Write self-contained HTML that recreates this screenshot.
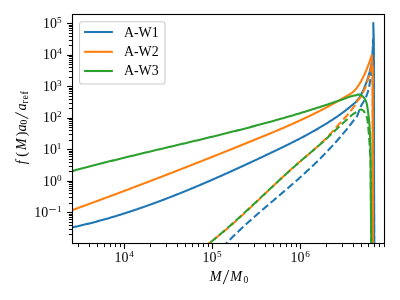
<!DOCTYPE html>
<html><head><meta charset="utf-8"><style>html,body{margin:0;padding:0;background:#fff;width:400px;height:300px;overflow:hidden}</style></head>
<body><svg width="400" height="300" viewBox="0 0 400 300" style="display:block;will-change:transform;font-family:'Liberation Serif',serif">
<rect width="400" height="300" fill="#fff"/>
<defs><clipPath id="ax"><rect x="72.5" y="14.5" width="312.0" height="229.0"/></clipPath></defs>
<g clip-path="url(#ax)">
<path d="M70.00 227.88 L70.98 227.67 L71.95 227.46 L72.93 227.25 L73.91 227.04 L74.88 226.83 L75.86 226.62 L76.83 226.40 L77.81 226.18 L78.78 225.96 L79.76 225.73 L80.73 225.51 L81.70 225.28 L82.67 225.05 L83.65 224.82 L84.62 224.58 L85.59 224.35 L86.56 224.11 L87.53 223.87 L88.50 223.63 L89.47 223.39 L90.43 223.14 L91.40 222.90 L92.37 222.65 L93.34 222.40 L94.30 222.15 L95.27 221.89 L96.24 221.64 L97.20 221.38 L98.17 221.12 L99.13 220.86 L100.09 220.60 L101.06 220.33 L102.02 220.07 L102.98 219.80 L103.95 219.53 L104.91 219.26 L105.87 218.99 L106.83 218.71 L107.79 218.44 L108.75 218.16 L109.71 217.88 L110.67 217.60 L111.63 217.32 L112.58 217.04 L113.54 216.75 L114.50 216.46 L115.45 216.18 L116.41 215.89 L117.37 215.60 L118.32 215.30 L119.28 215.01 L120.23 214.71 L121.18 214.41 L122.14 214.12 L123.09 213.82 L124.04 213.51 L124.99 213.21 L125.95 212.91 L126.90 212.60 L127.85 212.29 L128.80 211.98 L129.75 211.67 L130.70 211.36 L131.64 211.05 L132.59 210.74 L133.54 210.42 L134.49 210.10 L135.43 209.78 L136.38 209.46 L137.33 209.14 L138.27 208.82 L139.22 208.50 L140.16 208.17 L141.11 207.85 L142.05 207.52 L142.99 207.19 L143.94 206.86 L144.88 206.53 L145.82 206.20 L146.76 205.86 L147.70 205.53 L148.64 205.19 L149.59 204.86 L150.53 204.52 L151.46 204.18 L152.40 203.84 L153.34 203.49 L154.28 203.15 L155.22 202.81 L156.16 202.46 L157.09 202.12 L158.03 201.77 L158.97 201.42 L159.90 201.07 L160.84 200.72 L161.77 200.37 L162.71 200.01 L163.64 199.66 L164.57 199.30 L165.51 198.95 L166.44 198.59 L167.37 198.23 L168.30 197.87 L169.24 197.51 L170.17 197.15 L171.10 196.79 L172.03 196.43 L172.96 196.06 L173.89 195.70 L174.82 195.33 L175.75 194.96 L176.68 194.59 L177.60 194.22 L178.53 193.85 L179.46 193.48 L180.39 193.11 L181.31 192.74 L182.24 192.36 L183.17 191.99 L184.09 191.61 L185.02 191.24 L185.94 190.86 L186.87 190.48 L187.79 190.10 L188.71 189.72 L189.64 189.34 L190.56 188.96 L191.48 188.58 L192.41 188.20 L193.33 187.81 L194.25 187.43 L195.17 187.04 L196.09 186.66 L197.02 186.27 L197.94 185.88 L198.86 185.49 L199.78 185.10 L200.70 184.71 L201.61 184.32 L202.53 183.93 L203.45 183.54 L204.37 183.14 L205.29 182.75 L206.21 182.35 L207.12 181.96 L208.04 181.56 L208.96 181.17 L209.87 180.77 L210.79 180.37 L211.71 179.97 L212.62 179.57 L213.54 179.17 L214.45 178.77 L215.37 178.37 L216.28 177.97 L217.20 177.57 L218.11 177.16 L219.02 176.76 L219.94 176.35 L220.85 175.95 L221.76 175.54 L222.68 175.14 L223.59 174.73 L224.50 174.32 L225.41 173.91 L226.32 173.50 L227.23 173.10 L228.15 172.69 L229.06 172.28 L229.97 171.86 L230.88 171.45 L231.79 171.04 L232.70 170.63 L233.61 170.22 L234.52 169.80 L235.42 169.39 L236.33 168.97 L237.24 168.56 L238.15 168.14 L239.06 167.73 L239.97 167.31 L240.88 166.89 L241.78 166.48 L242.69 166.06 L243.60 165.64 L244.50 165.22 L245.41 164.80 L246.32 164.38 L247.22 163.96 L248.13 163.54 L249.04 163.12 L249.94 162.70 L250.85 162.28 L251.75 161.86 L252.66 161.43 L253.56 161.01 L254.47 160.59 L255.37 160.16 L256.28 159.74 L257.18 159.32 L258.09 158.89 L258.99 158.47 L259.89 158.04 L260.80 157.61 L261.70 157.19 L262.60 156.76 L263.51 156.34 L264.41 155.91 L265.31 155.48 L266.22 155.05 L267.12 154.63 L268.02 154.20 L268.92 153.77 L269.83 153.34 L270.73 152.91 L271.63 152.48 L272.53 152.05 L273.43 151.62 L274.34 151.19 L275.24 150.76 L276.14 150.33 L277.04 149.90 L277.94 149.47 L278.84 149.03 L279.74 148.60 L280.64 148.17 L281.54 147.73 L282.44 147.30 L283.34 146.86 L284.24 146.42 L285.13 145.99 L286.03 145.55 L286.93 145.11 L287.82 144.67 L288.72 144.22 L289.62 143.78 L290.51 143.33 L291.40 142.89 L292.30 142.44 L293.19 141.99 L294.08 141.54 L294.97 141.09 L295.86 140.64 L296.75 140.18 L297.64 139.73 L298.53 139.27 L299.42 138.81 L300.30 138.35 L301.19 137.89 L302.07 137.42 L302.96 136.96 L303.84 136.49 L304.72 136.02 L305.60 135.55 L306.48 135.08 L307.36 134.60 L308.24 134.12 L309.11 133.64 L309.99 133.16 L310.86 132.68 L311.74 132.19 L312.61 131.70 L313.48 131.21 L314.35 130.72 L315.22 130.23 L316.08 129.73 L316.95 129.23 L317.81 128.73 L318.67 128.22 L319.53 127.72 L320.39 127.21 L321.25 126.70 L322.11 126.18 L322.96 125.67 L323.82 125.15 L324.67 124.63 L325.52 124.10 L326.37 123.58 L327.22 123.05 L328.06 122.52 L328.91 121.98 L329.75 121.45 L330.59 120.91 L331.43 120.36 L332.27 119.82 L333.10 119.27 L333.94 118.72 L334.77 118.17 L335.60 117.61 L336.43 117.05 L337.25 116.49 L338.07 115.92 L338.89 115.35 L339.71 114.78 L340.53 114.20 L341.34 113.62 L342.15 113.03 L342.96 112.45 L343.76 111.85 L344.56 111.25 L345.36 110.65 L346.15 110.04 L346.93 109.43 L347.72 108.81 L348.50 108.18 L349.28 107.56 L350.05 106.93 L350.83 106.30 L351.60 105.66 L352.37 105.03 L353.14 104.39 L353.90 103.74 L354.65 103.07 L355.37 102.39 L356.06 101.67 L356.73 100.94 L357.37 100.18 L357.99 99.41 L358.58 98.61 L359.16 97.80 L359.71 96.96 L360.24 96.12 L360.75 95.25 L361.25 94.37 L361.73 93.48 L362.19 92.58 L362.63 91.67 L363.06 90.75 L363.48 89.82 L363.88 88.88 L364.28 87.94 L364.66 86.99 L365.03 86.04 L365.40 85.09 L365.75 84.13 L366.10 83.18 L366.44 82.22 L366.78 81.27 L367.10 80.31 L367.42 79.36 L367.73 78.40 L368.04 77.45 L368.33 76.49 L368.62 75.53 L368.90 74.58 L369.17 73.62 L369.43 72.66 L369.69 71.69 L369.93 70.73 L370.17 69.77 L370.40 68.80 L370.61 67.84 L370.82 66.87 L371.02 65.90 L371.21 64.93 L371.39 63.95 L371.56 62.98 L371.72 62.00 L371.87 61.02 L372.01 60.04 L372.15 59.06 L372.27 58.07 L372.39 57.09 L372.50 56.10 L372.61 55.11 L372.70 54.12 L372.79 53.13 L372.87 52.14 L372.95 51.15 L373.02 50.15 L373.08 49.16 L373.14 48.16 L373.19 47.16 L373.23 46.16 L373.27 45.16 L373.31 44.16 L373.34 43.16 L373.37 42.16 L373.39 41.15 L373.41 40.15 L373.42 39.14 L373.43 38.14 L373.44 37.13 L373.44 36.13 L373.44 35.12 L373.44 34.11 L373.43 33.10 L373.43 32.09 L373.42 31.08 L373.41 30.07 L373.39 29.06 L373.38 28.05 L373.37 27.04 L373.35 26.03 L373.33 25.02 L373.32 24.01 L373.30 23.00 L373.80 40.00 L374.20 250.00" fill="none" stroke="#1f77b4" stroke-width="2.083" stroke-linejoin="round"/>
<path d="M222.00 247.73 L222.69 247.01 L223.38 246.29 L224.08 245.57 L224.77 244.85 L225.47 244.13 L226.16 243.42 L226.86 242.70 L227.56 241.99 L228.26 241.27 L228.96 240.57 L229.67 239.86 L230.38 239.15 L231.09 238.45 L231.80 237.75 L232.51 237.05 L233.22 236.35 L233.94 235.65 L234.66 234.96 L235.38 234.26 L236.10 233.57 L236.82 232.88 L237.54 232.19 L238.27 231.50 L238.99 230.81 L239.72 230.13 L240.45 229.44 L241.18 228.76 L241.91 228.08 L242.64 227.40 L243.38 226.72 L244.11 226.05 L244.85 225.37 L245.58 224.70 L246.32 224.03 L247.06 223.35 L247.80 222.68 L248.55 222.02 L249.29 221.35 L250.03 220.68 L250.78 220.02 L251.53 219.35 L252.27 218.69 L253.02 218.03 L253.77 217.36 L254.52 216.70 L255.27 216.04 L256.02 215.39 L256.77 214.73 L257.53 214.07 L258.28 213.42 L259.04 212.76 L259.79 212.11 L260.55 211.45 L261.30 210.80 L262.06 210.15 L262.82 209.50 L263.58 208.85 L264.33 208.20 L265.09 207.55 L265.85 206.90 L266.61 206.25 L267.37 205.60 L268.13 204.95 L268.89 204.30 L269.65 203.65 L270.41 203.01 L271.18 202.36 L271.94 201.71 L272.70 201.07 L273.46 200.42 L274.22 199.77 L274.98 199.13 L275.75 198.48 L276.51 197.83 L277.27 197.19 L278.03 196.54 L278.79 195.89 L279.55 195.25 L280.32 194.60 L281.08 193.95 L281.84 193.31 L282.60 192.66 L283.36 192.01 L284.12 191.36 L284.88 190.71 L285.64 190.06 L286.40 189.41 L287.15 188.76 L287.91 188.11 L288.67 187.46 L289.42 186.80 L290.18 186.15 L290.94 185.50 L291.69 184.84 L292.44 184.19 L293.20 183.53 L293.95 182.87 L294.70 182.21 L295.45 181.55 L296.20 180.89 L296.95 180.23 L297.70 179.57 L298.45 178.91 L299.19 178.24 L299.94 177.58 L300.68 176.91 L301.43 176.24 L302.17 175.58 L302.91 174.91 L303.65 174.23 L304.39 173.56 L305.13 172.89 L305.86 172.21 L306.60 171.54 L307.33 170.86 L308.07 170.18 L308.80 169.50 L309.53 168.82 L310.26 168.13 L310.99 167.45 L311.71 166.76 L312.44 166.08 L313.16 165.39 L313.88 164.70 L314.60 164.00 L315.32 163.31 L316.04 162.61 L316.76 161.92 L317.47 161.22 L318.18 160.52 L318.89 159.82 L319.60 159.11 L320.31 158.41 L321.02 157.70 L321.72 156.99 L322.42 156.28 L323.13 155.57 L323.83 154.86 L324.52 154.14 L325.22 153.43 L325.91 152.71 L326.61 151.99 L327.30 151.26 L327.98 150.54 L328.67 149.82 L329.36 149.09 L330.04 148.36 L330.72 147.63 L331.40 146.90 L332.08 146.16 L332.76 145.43 L333.43 144.69 L334.10 143.95 L334.77 143.21 L335.44 142.46 L336.10 141.72 L336.77 140.97 L337.43 140.22 L338.09 139.47 L338.75 138.72 L339.40 137.97 L340.06 137.21 L340.71 136.45 L341.36 135.70 L342.01 134.94 L342.66 134.18 L343.31 133.41 L343.95 132.65 L344.60 131.88 L345.24 131.12 L345.87 130.35 L346.50 129.57 L347.13 128.80 L347.75 128.02 L348.37 127.23 L348.98 126.45 L349.59 125.66 L350.20 124.87 L350.81 124.08 L351.42 123.29 L352.04 122.51 L352.66 121.72 L353.29 120.94 L353.93 120.17 L354.58 119.39 L355.22 118.62 L355.85 117.83 L356.43 117.03 L356.96 116.19 L357.42 115.31 L357.81 114.41 L358.16 113.47 L358.48 112.52 L358.78 111.56 L359.08 110.60 L359.39 109.64 L359.72 108.69 L360.10 107.77 L360.53 106.87 L361.00 105.99 L361.49 105.12 L362.01 104.26 L362.54 103.41 L363.06 102.56 L363.58 101.70 L364.08 100.83 L364.56 99.95 L365.02 99.06 L365.45 98.16 L365.87 97.25 L366.26 96.33 L366.63 95.41 L366.98 94.47 L367.31 93.53 L367.61 92.58 L367.90 91.62 L368.16 90.65 L368.42 89.68 L368.65 88.71 L368.88 87.73 L369.09 86.75 L369.29 85.77 L369.48 84.79 L369.66 83.80 L369.84 82.82 L370.01 81.83 L370.17 80.84 L370.32 79.85 L370.46 78.87 L370.60 77.88 L370.74 76.89 L370.86 75.89 L370.98 74.90 L371.10 73.91 L371.21 72.92 L371.31 71.92 L371.41 70.93 L371.51 69.94 L371.60 68.94 L371.68 67.95 L371.77 66.95 L371.84 65.96 L371.92 64.96 L371.99 63.97 L372.06 62.97 L372.12 61.97 L372.18 60.98 L372.24 59.98 L372.30 58.98 L372.35 57.98 L372.40 56.99 L372.45 55.99 L372.50 54.99 L372.54 53.99 L372.58 52.99 L372.62 51.99 L372.66 50.99 L372.69 50.00 L372.73 49.00 L372.76 48.00 L372.79 47.00 L372.83 46.00 L372.86 45.00 L372.89 44.00 L372.91 43.00 L372.94 42.00 L372.97 41.00 L373.00 40.00 L373.60 60.00 L374.20 250.00" fill="none" stroke="#1f77b4" stroke-width="2.083" stroke-dasharray="7.71 3.33" stroke-dashoffset="0" stroke-linejoin="round"/>
<path d="M70.00 210.93 L70.94 210.59 L71.88 210.25 L72.81 209.92 L73.75 209.58 L74.69 209.24 L75.63 208.90 L76.56 208.56 L77.50 208.22 L78.44 207.88 L79.37 207.53 L80.31 207.19 L81.25 206.85 L82.19 206.51 L83.12 206.17 L84.06 205.83 L85.00 205.48 L85.93 205.14 L86.87 204.80 L87.81 204.46 L88.74 204.11 L89.68 203.77 L90.61 203.43 L91.55 203.08 L92.49 202.74 L93.42 202.39 L94.36 202.05 L95.29 201.70 L96.23 201.36 L97.16 201.01 L98.10 200.67 L99.04 200.32 L99.97 199.98 L100.91 199.63 L101.84 199.29 L102.78 198.94 L103.71 198.59 L104.65 198.25 L105.58 197.90 L106.52 197.55 L107.45 197.20 L108.39 196.86 L109.32 196.51 L110.25 196.16 L111.19 195.81 L112.12 195.46 L113.06 195.11 L113.99 194.77 L114.93 194.42 L115.86 194.07 L116.79 193.72 L117.73 193.37 L118.66 193.02 L119.59 192.67 L120.53 192.32 L121.46 191.97 L122.40 191.62 L123.33 191.27 L124.26 190.91 L125.20 190.56 L126.13 190.21 L127.06 189.86 L127.99 189.51 L128.93 189.16 L129.86 188.80 L130.79 188.45 L131.73 188.10 L132.66 187.74 L133.59 187.39 L134.52 187.04 L135.46 186.68 L136.39 186.33 L137.32 185.98 L138.25 185.62 L139.18 185.27 L140.12 184.91 L141.05 184.56 L141.98 184.20 L142.91 183.85 L143.84 183.49 L144.78 183.14 L145.71 182.78 L146.64 182.43 L147.57 182.07 L148.50 181.71 L149.43 181.36 L150.36 181.00 L151.30 180.64 L152.23 180.29 L153.16 179.93 L154.09 179.57 L155.02 179.21 L155.95 178.86 L156.88 178.50 L157.81 178.14 L158.74 177.78 L159.67 177.42 L160.60 177.07 L161.53 176.71 L162.46 176.35 L163.39 175.99 L164.32 175.63 L165.25 175.27 L166.18 174.91 L167.11 174.55 L168.04 174.19 L168.97 173.83 L169.90 173.47 L170.83 173.11 L171.76 172.75 L172.69 172.39 L173.62 172.02 L174.55 171.66 L175.48 171.30 L176.41 170.94 L177.34 170.58 L178.27 170.22 L179.20 169.85 L180.13 169.49 L181.06 169.13 L181.98 168.76 L182.91 168.40 L183.84 168.04 L184.77 167.68 L185.70 167.31 L186.63 166.95 L187.56 166.58 L188.48 166.22 L189.41 165.86 L190.34 165.49 L191.27 165.13 L192.20 164.76 L193.13 164.40 L194.05 164.03 L194.98 163.67 L195.91 163.30 L196.84 162.94 L197.76 162.57 L198.69 162.20 L199.62 161.84 L200.55 161.47 L201.47 161.11 L202.40 160.74 L203.33 160.37 L204.26 160.01 L205.18 159.64 L206.11 159.27 L207.04 158.90 L207.97 158.54 L208.89 158.17 L209.82 157.80 L210.75 157.43 L211.67 157.07 L212.60 156.70 L213.53 156.33 L214.45 155.96 L215.38 155.59 L216.31 155.22 L217.23 154.85 L218.16 154.48 L219.08 154.11 L220.01 153.74 L220.94 153.37 L221.86 153.00 L222.79 152.63 L223.71 152.26 L224.64 151.89 L225.57 151.52 L226.49 151.15 L227.42 150.78 L228.34 150.41 L229.27 150.04 L230.19 149.67 L231.12 149.30 L232.05 148.93 L232.97 148.55 L233.90 148.18 L234.82 147.81 L235.75 147.44 L236.67 147.07 L237.60 146.69 L238.52 146.32 L239.45 145.95 L240.37 145.58 L241.30 145.20 L242.22 144.83 L243.15 144.46 L244.07 144.08 L244.99 143.71 L245.92 143.34 L246.84 142.96 L247.77 142.59 L248.69 142.21 L249.62 141.84 L250.54 141.46 L251.46 141.09 L252.39 140.71 L253.31 140.34 L254.24 139.96 L255.16 139.59 L256.08 139.21 L257.01 138.84 L257.93 138.46 L258.86 138.09 L259.78 137.71 L260.70 137.33 L261.62 136.95 L262.55 136.58 L263.47 136.20 L264.39 135.82 L265.31 135.44 L266.24 135.06 L267.16 134.68 L268.08 134.30 L269.00 133.92 L269.92 133.54 L270.84 133.15 L271.76 132.77 L272.68 132.39 L273.60 132.00 L274.52 131.61 L275.44 131.23 L276.36 130.84 L277.28 130.45 L278.20 130.06 L279.12 129.67 L280.03 129.28 L280.95 128.89 L281.87 128.50 L282.78 128.11 L283.70 127.71 L284.62 127.32 L285.53 126.92 L286.44 126.52 L287.36 126.12 L288.27 125.72 L289.19 125.32 L290.10 124.92 L291.01 124.52 L291.92 124.11 L292.83 123.71 L293.74 123.30 L294.65 122.89 L295.56 122.48 L296.47 122.07 L297.38 121.66 L298.29 121.24 L299.19 120.83 L300.10 120.41 L301.00 119.99 L301.91 119.57 L302.81 119.15 L303.72 118.73 L304.62 118.31 L305.52 117.88 L306.42 117.46 L307.32 117.03 L308.22 116.60 L309.12 116.17 L310.02 115.73 L310.92 115.30 L311.81 114.86 L312.71 114.42 L313.60 113.98 L314.50 113.54 L315.39 113.10 L316.28 112.66 L317.18 112.21 L318.07 111.76 L318.96 111.31 L319.85 110.86 L320.73 110.40 L321.62 109.95 L322.51 109.49 L323.39 109.03 L324.28 108.57 L325.16 108.11 L326.04 107.64 L326.92 107.18 L327.80 106.71 L328.68 106.24 L329.56 105.77 L330.44 105.29 L331.31 104.81 L332.19 104.34 L333.06 103.86 L333.94 103.37 L334.81 102.89 L335.68 102.41 L336.55 101.92 L337.42 101.43 L338.29 100.94 L339.15 100.44 L340.01 99.94 L340.87 99.44 L341.73 98.93 L342.59 98.42 L343.44 97.91 L344.30 97.41 L345.17 96.90 L346.03 96.41 L346.91 95.92 L347.78 95.43 L348.66 94.94 L349.52 94.43 L350.36 93.91 L351.19 93.36 L351.99 92.77 L352.76 92.15 L353.51 91.49 L354.22 90.80 L354.91 90.08 L355.57 89.34 L356.21 88.56 L356.83 87.77 L357.43 86.96 L358.01 86.13 L358.58 85.29 L359.12 84.44 L359.66 83.58 L360.18 82.72 L360.69 81.85 L361.19 80.98 L361.67 80.10 L362.15 79.22 L362.61 78.34 L363.06 77.45 L363.50 76.55 L363.94 75.65 L364.36 74.75 L364.78 73.84 L365.18 72.94 L365.58 72.02 L365.97 71.11 L366.35 70.19 L366.73 69.27 L367.10 68.34 L367.46 67.41 L367.82 66.48 L368.17 65.55 L368.51 64.62 L368.86 63.68 L369.19 62.74 L369.53 61.80 L369.86 60.86 L370.19 59.92 L370.51 58.98 L370.84 58.03 L371.16 57.09 L371.48 56.14 L371.80 55.20 L372.60 70.00 L373.00 250.00" fill="none" stroke="#ff7f0e" stroke-width="2.083" stroke-linejoin="round"/>
<path d="M205.00 246.05 L205.81 245.47 L206.62 244.89 L207.43 244.31 L208.24 243.73 L209.05 243.14 L209.85 242.56 L210.65 241.96 L211.45 241.37 L212.25 240.77 L213.04 240.16 L213.83 239.56 L214.62 238.95 L215.40 238.33 L216.19 237.72 L216.97 237.10 L217.75 236.48 L218.52 235.85 L219.30 235.23 L220.07 234.60 L220.85 233.97 L221.62 233.33 L222.38 232.70 L223.15 232.06 L223.92 231.42 L224.68 230.78 L225.44 230.14 L226.20 229.49 L226.96 228.85 L227.71 228.20 L228.47 227.55 L229.22 226.89 L229.97 226.24 L230.72 225.58 L231.47 224.93 L232.22 224.27 L232.97 223.61 L233.71 222.95 L234.46 222.28 L235.20 221.62 L235.94 220.95 L236.68 220.29 L237.42 219.62 L238.16 218.95 L238.90 218.28 L239.64 217.61 L240.37 216.93 L241.11 216.26 L241.84 215.59 L242.57 214.91 L243.30 214.23 L244.04 213.56 L244.77 212.88 L245.50 212.20 L246.22 211.52 L246.95 210.84 L247.68 210.16 L248.41 209.48 L249.13 208.79 L249.86 208.11 L250.59 207.43 L251.31 206.74 L252.04 206.06 L252.76 205.38 L253.48 204.69 L254.21 204.00 L254.93 203.32 L255.65 202.63 L256.37 201.94 L257.10 201.26 L257.82 200.57 L258.54 199.88 L259.26 199.20 L259.98 198.51 L260.70 197.82 L261.42 197.13 L262.15 196.44 L262.87 195.76 L263.59 195.07 L264.31 194.38 L265.03 193.69 L265.75 193.00 L266.47 192.31 L267.19 191.63 L267.91 190.94 L268.64 190.25 L269.36 189.56 L270.08 188.88 L270.80 188.19 L271.53 187.50 L272.25 186.82 L272.97 186.13 L273.70 185.45 L274.42 184.76 L275.14 184.08 L275.87 183.40 L276.60 182.71 L277.32 182.03 L278.05 181.35 L278.78 180.67 L279.50 179.99 L280.23 179.31 L280.96 178.63 L281.69 177.95 L282.42 177.27 L283.15 176.59 L283.89 175.92 L284.62 175.24 L285.35 174.57 L286.09 173.89 L286.83 173.22 L287.56 172.55 L288.30 171.88 L289.04 171.21 L289.78 170.55 L290.52 169.88 L291.26 169.21 L292.01 168.55 L292.75 167.89 L293.50 167.23 L294.24 166.57 L294.99 165.91 L295.74 165.25 L296.49 164.60 L297.25 163.94 L298.00 163.29 L298.76 162.64 L299.51 161.99 L300.27 161.35 L301.03 160.70 L301.79 160.05 L302.55 159.41 L303.31 158.76 L304.07 158.12 L304.83 157.47 L305.59 156.83 L306.35 156.19 L307.11 155.54 L307.87 154.90 L308.63 154.26 L309.39 153.61 L310.15 152.97 L310.91 152.32 L311.67 151.67 L312.42 151.02 L313.18 150.37 L313.93 149.72 L314.68 149.06 L315.43 148.41 L316.18 147.75 L316.93 147.09 L317.67 146.42 L318.41 145.76 L319.15 145.09 L319.89 144.41 L320.62 143.74 L321.34 143.06 L322.07 142.37 L322.79 141.68 L323.51 140.99 L324.22 140.29 L324.93 139.59 L325.63 138.89 L326.33 138.18 L327.03 137.46 L327.72 136.74 L328.40 136.02 L329.08 135.29 L329.76 134.56 L330.43 133.82 L331.10 133.08 L331.76 132.34 L332.42 131.59 L333.08 130.84 L333.73 130.09 L334.39 129.34 L335.04 128.59 L335.70 127.84 L336.36 127.09 L337.03 126.35 L337.69 125.61 L338.37 124.87 L339.04 124.14 L339.72 123.41 L340.40 122.68 L341.08 121.95 L341.76 121.22 L342.43 120.49 L343.11 119.76 L343.79 119.03 L344.46 118.29 L345.13 117.55 L345.80 116.81 L346.46 116.06 L347.11 115.31 L347.76 114.56 L348.41 113.80 L349.04 113.03 L349.67 112.26 L350.29 111.48 L350.91 110.70 L351.52 109.91 L352.12 109.11 L352.72 108.32 L353.31 107.51 L353.90 106.71 L354.49 105.90 L355.07 105.09 L355.64 104.28 L356.17 103.43 L356.65 102.55 L357.11 101.67 L357.60 100.80 L358.16 99.98 L358.80 99.21 L359.47 98.47 L360.14 97.72 L360.76 96.95 L361.29 96.11 L361.74 95.22 L362.15 94.31 L362.57 93.39 L362.99 92.49 L363.43 91.58 L363.86 90.68 L364.30 89.78 L364.73 88.88 L365.14 87.98 L365.54 87.07 L365.92 86.15 L366.28 85.22 L366.61 84.29 L366.90 83.34 L367.17 82.38 L367.42 81.42 L367.67 80.45 L367.92 79.48 L368.20 78.52 L368.49 77.57 L368.80 76.62 L369.11 75.67 L369.42 74.72 L369.72 73.77 L370.01 72.82 L370.28 71.86 L370.52 70.90 L370.73 69.93 L370.92 68.96 L371.08 67.98 L371.21 67.00 L371.33 66.01 L371.43 65.02 L371.51 64.02 L371.58 63.02 L371.64 62.02 L371.69 61.02 L371.73 60.01 L371.77 59.01 L371.80 58.00 L372.60 70.00 L373.00 250.00" fill="none" stroke="#ff7f0e" stroke-width="2.083" stroke-dasharray="7.71 3.33" stroke-dashoffset="0" stroke-linejoin="round"/>
<path d="M70.00 171.68 L70.96 171.42 L71.93 171.15 L72.89 170.89 L73.85 170.63 L74.82 170.37 L75.78 170.11 L76.74 169.85 L77.71 169.59 L78.67 169.33 L79.64 169.07 L80.60 168.82 L81.56 168.56 L82.53 168.31 L83.49 168.05 L84.46 167.80 L85.42 167.54 L86.39 167.29 L87.36 167.03 L88.32 166.78 L89.29 166.53 L90.25 166.28 L91.22 166.03 L92.18 165.78 L93.15 165.53 L94.12 165.28 L95.08 165.03 L96.05 164.78 L97.02 164.53 L97.98 164.28 L98.95 164.04 L99.92 163.79 L100.89 163.54 L101.85 163.30 L102.82 163.05 L103.79 162.81 L104.76 162.56 L105.72 162.32 L106.69 162.08 L107.66 161.83 L108.63 161.59 L109.60 161.35 L110.56 161.11 L111.53 160.87 L112.50 160.62 L113.47 160.38 L114.44 160.14 L115.41 159.90 L116.38 159.66 L117.35 159.42 L118.32 159.19 L119.28 158.95 L120.25 158.71 L121.22 158.47 L122.19 158.23 L123.16 158.00 L124.13 157.76 L125.10 157.52 L126.07 157.29 L127.04 157.05 L128.01 156.81 L128.98 156.58 L129.95 156.34 L130.92 156.11 L131.89 155.87 L132.86 155.64 L133.83 155.40 L134.80 155.17 L135.77 154.94 L136.74 154.70 L137.71 154.47 L138.68 154.24 L139.65 154.00 L140.62 153.77 L141.59 153.54 L142.57 153.31 L143.54 153.07 L144.51 152.84 L145.48 152.61 L146.45 152.38 L147.42 152.15 L148.39 151.92 L149.36 151.68 L150.33 151.45 L151.30 151.22 L152.27 150.99 L153.25 150.76 L154.22 150.53 L155.19 150.30 L156.16 150.07 L157.13 149.84 L158.10 149.61 L159.07 149.38 L160.04 149.15 L161.02 148.92 L161.99 148.69 L162.96 148.46 L163.93 148.23 L164.90 148.00 L165.87 147.77 L166.84 147.54 L167.81 147.31 L168.79 147.08 L169.76 146.85 L170.73 146.62 L171.70 146.39 L172.67 146.16 L173.64 145.93 L174.61 145.70 L175.58 145.47 L176.56 145.24 L177.53 145.01 L178.50 144.78 L179.47 144.55 L180.44 144.32 L181.41 144.09 L182.38 143.86 L183.35 143.63 L184.33 143.40 L185.30 143.17 L186.27 142.94 L187.24 142.71 L188.21 142.48 L189.18 142.24 L190.15 142.01 L191.12 141.78 L192.09 141.55 L193.06 141.32 L194.04 141.09 L195.01 140.85 L195.98 140.62 L196.95 140.39 L197.92 140.16 L198.89 139.92 L199.86 139.69 L200.83 139.46 L201.80 139.23 L202.77 138.99 L203.74 138.76 L204.71 138.52 L205.68 138.29 L206.65 138.05 L207.62 137.82 L208.59 137.58 L209.56 137.35 L210.53 137.11 L211.50 136.88 L212.47 136.64 L213.44 136.40 L214.41 136.17 L215.38 135.93 L216.35 135.69 L217.32 135.46 L218.29 135.22 L219.26 134.98 L220.23 134.74 L221.20 134.50 L222.16 134.26 L223.13 134.02 L224.10 133.78 L225.07 133.54 L226.04 133.30 L227.01 133.06 L227.98 132.82 L228.94 132.58 L229.91 132.33 L230.88 132.09 L231.85 131.85 L232.82 131.60 L233.78 131.36 L234.75 131.11 L235.72 130.87 L236.69 130.62 L237.65 130.38 L238.62 130.13 L239.59 129.89 L240.56 129.64 L241.52 129.39 L242.49 129.14 L243.46 128.89 L244.42 128.64 L245.39 128.39 L246.36 128.14 L247.32 127.89 L248.29 127.64 L249.25 127.39 L250.22 127.14 L251.18 126.88 L252.15 126.63 L253.12 126.38 L254.08 126.12 L255.05 125.87 L256.01 125.61 L256.97 125.36 L257.94 125.10 L258.90 124.84 L259.87 124.58 L260.83 124.33 L261.80 124.07 L262.76 123.81 L263.72 123.55 L264.69 123.28 L265.65 123.02 L266.61 122.76 L267.58 122.50 L268.54 122.23 L269.50 121.97 L270.46 121.71 L271.43 121.44 L272.39 121.17 L273.35 120.91 L274.31 120.64 L275.27 120.37 L276.23 120.10 L277.19 119.83 L278.16 119.56 L279.12 119.29 L280.08 119.02 L281.04 118.75 L282.00 118.47 L282.96 118.20 L283.92 117.92 L284.88 117.65 L285.83 117.37 L286.79 117.10 L287.75 116.82 L288.71 116.54 L289.67 116.26 L290.63 115.98 L291.58 115.70 L292.54 115.42 L293.50 115.14 L294.46 114.85 L295.41 114.57 L296.37 114.28 L297.33 114.00 L298.28 113.71 L299.24 113.43 L300.19 113.14 L301.15 112.85 L302.10 112.56 L303.06 112.27 L304.01 111.98 L304.97 111.68 L305.92 111.39 L306.88 111.10 L307.83 110.80 L308.78 110.51 L309.74 110.21 L310.69 109.91 L311.64 109.61 L312.59 109.31 L313.55 109.01 L314.50 108.71 L315.45 108.41 L316.40 108.11 L317.35 107.81 L318.30 107.50 L319.25 107.19 L320.20 106.89 L321.15 106.58 L322.10 106.27 L323.05 105.96 L324.00 105.65 L324.95 105.34 L325.89 105.03 L326.84 104.71 L327.79 104.40 L328.74 104.09 L329.68 103.77 L330.63 103.45 L331.58 103.14 L332.52 102.82 L333.47 102.50 L334.41 102.17 L335.36 101.85 L336.30 101.52 L337.24 101.20 L338.19 100.87 L339.13 100.55 L340.07 100.23 L341.02 99.91 L341.96 99.59 L342.91 99.27 L343.85 98.94 L344.79 98.60 L345.73 98.25 L346.66 97.88 L347.59 97.50 L348.52 97.13 L349.46 96.77 L350.40 96.44 L351.35 96.15 L352.31 95.92 L353.28 95.74 L354.26 95.57 L355.24 95.38 L356.23 95.14 L357.22 94.84 L358.19 94.59 L359.16 94.50 L360.09 94.65 L360.99 95.02 L361.85 95.58 L362.66 96.27 L363.40 97.06 L364.07 97.90 L364.67 98.76 L365.19 99.63 L365.63 100.51 L366.02 101.42 L366.35 102.34 L366.63 103.29 L366.86 104.25 L367.06 105.23 L367.23 106.22 L367.39 107.21 L367.53 108.21 L367.67 109.20 L367.81 110.20 L367.95 111.19 L368.08 112.18 L368.21 113.17 L368.34 114.16 L368.46 115.15 L368.58 116.14 L368.69 117.13 L368.80 118.11 L368.91 119.10 L369.01 120.09 L369.11 121.08 L369.20 122.07 L369.28 123.07 L369.37 124.06 L369.44 125.05 L369.52 126.04 L369.59 127.04 L369.66 128.03 L369.72 129.03 L369.78 130.02 L369.83 131.02 L369.89 132.01 L369.94 133.01 L369.98 134.01 L370.03 135.01 L370.07 136.00 L370.11 137.00 L370.15 138.00 L370.19 139.00 L370.22 140.00 L370.25 141.00 L370.28 142.00 L370.31 143.00 L370.34 144.00 L370.37 145.00 L370.40 146.00 L370.42 147.00 L370.45 148.00 L370.47 149.00 L370.50 150.00 L371.30 250.00" fill="none" stroke="#2ca02c" stroke-width="2.083" stroke-linejoin="round"/>
<path d="M205.00 246.52 L205.79 245.90 L206.58 245.29 L207.36 244.68 L208.15 244.06 L208.94 243.45 L209.72 242.83 L210.50 242.21 L211.28 241.59 L212.06 240.96 L212.84 240.34 L213.61 239.71 L214.39 239.08 L215.16 238.44 L215.93 237.81 L216.70 237.17 L217.47 236.53 L218.23 235.89 L219.00 235.25 L219.76 234.61 L220.53 233.97 L221.29 233.32 L222.05 232.68 L222.81 232.03 L223.57 231.38 L224.32 230.73 L225.08 230.07 L225.83 229.42 L226.59 228.77 L227.34 228.11 L228.09 227.45 L228.84 226.80 L229.59 226.14 L230.34 225.48 L231.09 224.82 L231.84 224.15 L232.58 223.49 L233.33 222.83 L234.07 222.16 L234.81 221.50 L235.56 220.83 L236.30 220.16 L237.04 219.49 L237.78 218.82 L238.52 218.15 L239.26 217.48 L240.00 216.81 L240.74 216.14 L241.47 215.46 L242.21 214.79 L242.95 214.12 L243.68 213.44 L244.42 212.77 L245.15 212.09 L245.89 211.41 L246.62 210.74 L247.35 210.06 L248.09 209.38 L248.82 208.70 L249.55 208.02 L250.28 207.34 L251.01 206.67 L251.74 205.99 L252.47 205.31 L253.20 204.62 L253.93 203.94 L254.66 203.26 L255.39 202.58 L256.12 201.90 L256.85 201.22 L257.58 200.54 L258.31 199.85 L259.04 199.17 L259.77 198.49 L260.50 197.81 L261.22 197.12 L261.95 196.44 L262.68 195.76 L263.41 195.08 L264.14 194.39 L264.87 193.71 L265.59 193.03 L266.32 192.34 L267.05 191.66 L267.78 190.98 L268.51 190.30 L269.24 189.61 L269.97 188.93 L270.69 188.25 L271.42 187.57 L272.15 186.89 L272.88 186.21 L273.61 185.53 L274.34 184.85 L275.07 184.17 L275.80 183.49 L276.54 182.81 L277.27 182.13 L278.00 181.45 L278.73 180.77 L279.46 180.09 L280.20 179.41 L280.93 178.74 L281.67 178.06 L282.40 177.38 L283.14 176.71 L283.87 176.03 L284.61 175.36 L285.34 174.69 L286.08 174.01 L286.82 173.34 L287.56 172.67 L288.30 172.00 L289.04 171.33 L289.78 170.66 L290.52 169.99 L291.26 169.32 L292.01 168.66 L292.75 167.99 L293.49 167.33 L294.24 166.66 L294.98 166.00 L295.73 165.34 L296.48 164.68 L297.23 164.02 L297.98 163.36 L298.73 162.70 L299.48 162.04 L300.23 161.39 L300.99 160.73 L301.74 160.08 L302.50 159.43 L303.26 158.78 L304.02 158.13 L304.77 157.48 L305.53 156.83 L306.29 156.19 L307.06 155.54 L307.82 154.90 L308.58 154.25 L309.34 153.61 L310.10 152.96 L310.87 152.32 L311.63 151.67 L312.39 151.03 L313.15 150.38 L313.91 149.73 L314.67 149.09 L315.43 148.44 L316.19 147.79 L316.94 147.14 L317.70 146.48 L318.45 145.83 L319.20 145.17 L319.95 144.51 L320.70 143.85 L321.45 143.19 L322.19 142.52 L322.94 141.86 L323.68 141.19 L324.42 140.52 L325.16 139.85 L325.89 139.17 L326.63 138.50 L327.36 137.82 L328.09 137.14 L328.82 136.46 L329.55 135.78 L330.28 135.09 L331.01 134.41 L331.73 133.73 L332.46 133.04 L333.19 132.36 L333.91 131.67 L334.64 130.99 L335.36 130.30 L336.09 129.61 L336.81 128.93 L337.54 128.24 L338.26 127.55 L338.99 126.86 L339.71 126.18 L340.44 125.49 L341.17 124.81 L341.89 124.13 L342.63 123.45 L343.36 122.78 L344.09 122.10 L344.83 121.43 L345.56 120.76 L346.30 120.09 L347.04 119.42 L347.78 118.74 L348.51 118.06 L349.24 117.37 L349.98 116.68 L350.72 116.01 L351.48 115.36 L352.25 114.76 L353.05 114.21 L353.86 113.68 L354.70 113.15 L355.55 112.60 L356.41 111.99 L357.29 111.32 L358.17 110.66 L359.05 110.08 L359.93 109.67 L360.80 109.50 L361.66 109.64 L362.49 110.07 L363.28 110.73 L364.01 111.55 L364.67 112.47 L365.25 113.42 L365.73 114.37 L366.14 115.32 L366.49 116.26 L366.79 117.20 L367.05 118.13 L367.28 119.07 L367.50 120.00 L369.00 135.00 L370.60 160.00 L371.30 250.00" fill="none" stroke="#2ca02c" stroke-width="2.083" stroke-dasharray="7.71 3.33" stroke-dashoffset="4" stroke-linejoin="round"/>
</g>
<rect x="72.5" y="14.5" width="312.00" height="229.00" fill="none" stroke="#000" stroke-width="1.11"/>
<line x1="68.90" y1="234.50" x2="72.5" y2="234.50" stroke="#000" stroke-width="0.95"/>
<line x1="68.90" y1="229.50" x2="72.5" y2="229.50" stroke="#000" stroke-width="0.95"/>
<line x1="68.90" y1="225.50" x2="72.5" y2="225.50" stroke="#000" stroke-width="0.95"/>
<line x1="68.90" y1="222.50" x2="72.5" y2="222.50" stroke="#000" stroke-width="0.95"/>
<line x1="68.90" y1="219.50" x2="72.5" y2="219.50" stroke="#000" stroke-width="0.95"/>
<line x1="68.90" y1="217.50" x2="72.5" y2="217.50" stroke="#000" stroke-width="0.95"/>
<line x1="68.90" y1="215.50" x2="72.5" y2="215.50" stroke="#000" stroke-width="0.95"/>
<line x1="68.90" y1="214.50" x2="72.5" y2="214.50" stroke="#000" stroke-width="0.95"/>
<line x1="67.10" y1="212.50" x2="72.5" y2="212.50" stroke="#000" stroke-width="1.11"/>
<line x1="68.90" y1="203.50" x2="72.5" y2="203.50" stroke="#000" stroke-width="0.95"/>
<line x1="68.90" y1="197.50" x2="72.5" y2="197.50" stroke="#000" stroke-width="0.95"/>
<line x1="68.90" y1="193.50" x2="72.5" y2="193.50" stroke="#000" stroke-width="0.95"/>
<line x1="68.90" y1="190.50" x2="72.5" y2="190.50" stroke="#000" stroke-width="0.95"/>
<line x1="68.90" y1="188.50" x2="72.5" y2="188.50" stroke="#000" stroke-width="0.95"/>
<line x1="68.90" y1="186.50" x2="72.5" y2="186.50" stroke="#000" stroke-width="0.95"/>
<line x1="68.90" y1="184.50" x2="72.5" y2="184.50" stroke="#000" stroke-width="0.95"/>
<line x1="68.90" y1="182.50" x2="72.5" y2="182.50" stroke="#000" stroke-width="0.95"/>
<line x1="67.10" y1="181.50" x2="72.5" y2="181.50" stroke="#000" stroke-width="1.11"/>
<line x1="68.90" y1="171.50" x2="72.5" y2="171.50" stroke="#000" stroke-width="0.95"/>
<line x1="68.90" y1="166.50" x2="72.5" y2="166.50" stroke="#000" stroke-width="0.95"/>
<line x1="68.90" y1="162.50" x2="72.5" y2="162.50" stroke="#000" stroke-width="0.95"/>
<line x1="68.90" y1="159.50" x2="72.5" y2="159.50" stroke="#000" stroke-width="0.95"/>
<line x1="68.90" y1="156.50" x2="72.5" y2="156.50" stroke="#000" stroke-width="0.95"/>
<line x1="68.90" y1="154.50" x2="72.5" y2="154.50" stroke="#000" stroke-width="0.95"/>
<line x1="68.90" y1="152.50" x2="72.5" y2="152.50" stroke="#000" stroke-width="0.95"/>
<line x1="68.90" y1="151.50" x2="72.5" y2="151.50" stroke="#000" stroke-width="0.95"/>
<line x1="67.10" y1="149.50" x2="72.5" y2="149.50" stroke="#000" stroke-width="1.11"/>
<line x1="68.90" y1="140.50" x2="72.5" y2="140.50" stroke="#000" stroke-width="0.95"/>
<line x1="68.90" y1="134.50" x2="72.5" y2="134.50" stroke="#000" stroke-width="0.95"/>
<line x1="68.90" y1="130.50" x2="72.5" y2="130.50" stroke="#000" stroke-width="0.95"/>
<line x1="68.90" y1="127.50" x2="72.5" y2="127.50" stroke="#000" stroke-width="0.95"/>
<line x1="68.90" y1="125.50" x2="72.5" y2="125.50" stroke="#000" stroke-width="0.95"/>
<line x1="68.90" y1="123.50" x2="72.5" y2="123.50" stroke="#000" stroke-width="0.95"/>
<line x1="68.90" y1="121.50" x2="72.5" y2="121.50" stroke="#000" stroke-width="0.95"/>
<line x1="68.90" y1="119.50" x2="72.5" y2="119.50" stroke="#000" stroke-width="0.95"/>
<line x1="67.10" y1="118.50" x2="72.5" y2="118.50" stroke="#000" stroke-width="1.11"/>
<line x1="68.90" y1="108.50" x2="72.5" y2="108.50" stroke="#000" stroke-width="0.95"/>
<line x1="68.90" y1="103.50" x2="72.5" y2="103.50" stroke="#000" stroke-width="0.95"/>
<line x1="68.90" y1="99.50" x2="72.5" y2="99.50" stroke="#000" stroke-width="0.95"/>
<line x1="68.90" y1="96.50" x2="72.5" y2="96.50" stroke="#000" stroke-width="0.95"/>
<line x1="68.90" y1="93.50" x2="72.5" y2="93.50" stroke="#000" stroke-width="0.95"/>
<line x1="68.90" y1="91.50" x2="72.5" y2="91.50" stroke="#000" stroke-width="0.95"/>
<line x1="68.90" y1="89.50" x2="72.5" y2="89.50" stroke="#000" stroke-width="0.95"/>
<line x1="68.90" y1="88.50" x2="72.5" y2="88.50" stroke="#000" stroke-width="0.95"/>
<line x1="67.10" y1="86.50" x2="72.5" y2="86.50" stroke="#000" stroke-width="1.11"/>
<line x1="68.90" y1="77.50" x2="72.5" y2="77.50" stroke="#000" stroke-width="0.95"/>
<line x1="68.90" y1="71.50" x2="72.5" y2="71.50" stroke="#000" stroke-width="0.95"/>
<line x1="68.90" y1="67.50" x2="72.5" y2="67.50" stroke="#000" stroke-width="0.95"/>
<line x1="68.90" y1="64.50" x2="72.5" y2="64.50" stroke="#000" stroke-width="0.95"/>
<line x1="68.90" y1="62.50" x2="72.5" y2="62.50" stroke="#000" stroke-width="0.95"/>
<line x1="68.90" y1="60.50" x2="72.5" y2="60.50" stroke="#000" stroke-width="0.95"/>
<line x1="68.90" y1="58.50" x2="72.5" y2="58.50" stroke="#000" stroke-width="0.95"/>
<line x1="68.90" y1="56.50" x2="72.5" y2="56.50" stroke="#000" stroke-width="0.95"/>
<line x1="67.10" y1="55.50" x2="72.5" y2="55.50" stroke="#000" stroke-width="1.11"/>
<line x1="68.90" y1="45.50" x2="72.5" y2="45.50" stroke="#000" stroke-width="0.95"/>
<line x1="68.90" y1="40.50" x2="72.5" y2="40.50" stroke="#000" stroke-width="0.95"/>
<line x1="68.90" y1="36.50" x2="72.5" y2="36.50" stroke="#000" stroke-width="0.95"/>
<line x1="68.90" y1="33.50" x2="72.5" y2="33.50" stroke="#000" stroke-width="0.95"/>
<line x1="68.90" y1="30.50" x2="72.5" y2="30.50" stroke="#000" stroke-width="0.95"/>
<line x1="68.90" y1="28.50" x2="72.5" y2="28.50" stroke="#000" stroke-width="0.95"/>
<line x1="68.90" y1="26.50" x2="72.5" y2="26.50" stroke="#000" stroke-width="0.95"/>
<line x1="68.90" y1="25.50" x2="72.5" y2="25.50" stroke="#000" stroke-width="0.95"/>
<line x1="67.10" y1="23.50" x2="72.5" y2="23.50" stroke="#000" stroke-width="1.11"/>
<line x1="78.50" y1="243.5" x2="78.50" y2="247.10" stroke="#000" stroke-width="0.95"/>
<line x1="89.50" y1="243.5" x2="89.50" y2="247.10" stroke="#000" stroke-width="0.95"/>
<line x1="97.50" y1="243.5" x2="97.50" y2="247.10" stroke="#000" stroke-width="0.95"/>
<line x1="104.50" y1="243.5" x2="104.50" y2="247.10" stroke="#000" stroke-width="0.95"/>
<line x1="110.50" y1="243.5" x2="110.50" y2="247.10" stroke="#000" stroke-width="0.95"/>
<line x1="115.50" y1="243.5" x2="115.50" y2="247.10" stroke="#000" stroke-width="0.95"/>
<line x1="120.50" y1="243.5" x2="120.50" y2="247.10" stroke="#000" stroke-width="0.95"/>
<line x1="124.50" y1="243.5" x2="124.50" y2="248.90" stroke="#000" stroke-width="1.11"/>
<line x1="150.50" y1="243.5" x2="150.50" y2="247.10" stroke="#000" stroke-width="0.95"/>
<line x1="166.50" y1="243.5" x2="166.50" y2="247.10" stroke="#000" stroke-width="0.95"/>
<line x1="177.50" y1="243.5" x2="177.50" y2="247.10" stroke="#000" stroke-width="0.95"/>
<line x1="185.50" y1="243.5" x2="185.50" y2="247.10" stroke="#000" stroke-width="0.95"/>
<line x1="192.50" y1="243.5" x2="192.50" y2="247.10" stroke="#000" stroke-width="0.95"/>
<line x1="198.50" y1="243.5" x2="198.50" y2="247.10" stroke="#000" stroke-width="0.95"/>
<line x1="203.50" y1="243.5" x2="203.50" y2="247.10" stroke="#000" stroke-width="0.95"/>
<line x1="208.50" y1="243.5" x2="208.50" y2="247.10" stroke="#000" stroke-width="0.95"/>
<line x1="212.50" y1="243.5" x2="212.50" y2="248.90" stroke="#000" stroke-width="1.11"/>
<line x1="238.50" y1="243.5" x2="238.50" y2="247.10" stroke="#000" stroke-width="0.95"/>
<line x1="254.50" y1="243.5" x2="254.50" y2="247.10" stroke="#000" stroke-width="0.95"/>
<line x1="265.50" y1="243.5" x2="265.50" y2="247.10" stroke="#000" stroke-width="0.95"/>
<line x1="273.50" y1="243.5" x2="273.50" y2="247.10" stroke="#000" stroke-width="0.95"/>
<line x1="280.50" y1="243.5" x2="280.50" y2="247.10" stroke="#000" stroke-width="0.95"/>
<line x1="286.50" y1="243.5" x2="286.50" y2="247.10" stroke="#000" stroke-width="0.95"/>
<line x1="291.50" y1="243.5" x2="291.50" y2="247.10" stroke="#000" stroke-width="0.95"/>
<line x1="296.50" y1="243.5" x2="296.50" y2="247.10" stroke="#000" stroke-width="0.95"/>
<line x1="300.50" y1="243.5" x2="300.50" y2="248.90" stroke="#000" stroke-width="1.11"/>
<line x1="326.50" y1="243.5" x2="326.50" y2="247.10" stroke="#000" stroke-width="0.95"/>
<line x1="342.50" y1="243.5" x2="342.50" y2="247.10" stroke="#000" stroke-width="0.95"/>
<line x1="353.50" y1="243.5" x2="353.50" y2="247.10" stroke="#000" stroke-width="0.95"/>
<line x1="361.50" y1="243.5" x2="361.50" y2="247.10" stroke="#000" stroke-width="0.95"/>
<line x1="368.50" y1="243.5" x2="368.50" y2="247.10" stroke="#000" stroke-width="0.95"/>
<line x1="374.50" y1="243.5" x2="374.50" y2="247.10" stroke="#000" stroke-width="0.95"/>
<line x1="379.50" y1="243.5" x2="379.50" y2="247.10" stroke="#000" stroke-width="0.95"/>
<line x1="384.50" y1="243.5" x2="384.50" y2="247.10" stroke="#000" stroke-width="0.95"/>
<text x="43.12" y="186.00" font-size="13.9">10</text>
<text x="57.11" y="181.00" font-size="9.2">0</text>
<text x="43.12" y="154.00" font-size="13.9">10</text>
<text x="56.68" y="149.00" font-size="9.2">1</text>
<text x="43.12" y="122.00" font-size="13.9">10</text>
<text x="57.11" y="117.00" font-size="9.2">2</text>
<text x="43.12" y="91.00" font-size="13.9">10</text>
<text x="56.97" y="86.00" font-size="9.2">3</text>
<text x="43.12" y="59.00" font-size="13.9">10</text>
<text x="57.25" y="54.00" font-size="9.2">4</text>
<text x="43.12" y="28.00" font-size="13.9">10</text>
<text x="56.97" y="23.00" font-size="9.2">5</text>
<text x="34.22" y="217.00" font-size="13.9">10</text>
<rect x="49.2" y="209.1" width="6.6" height="0.7" fill="#000"/>
<text x="57.08" y="212.00" font-size="9.2">1</text>
<text x="114.57" y="262.00" font-size="13.9">10</text>
<text x="129.35" y="257.00" font-size="9.2">4</text>
<text x="202.57" y="262.00" font-size="13.9">10</text>
<text x="217.07" y="257.00" font-size="9.2">5</text>
<text x="290.57" y="262.00" font-size="13.9">10</text>
<text x="305.21" y="257.00" font-size="9.2">6</text>
<text x="209.73" y="281.00" font-size="14.2" font-style="italic">M</text><line x1="223.2" y1="284.2" x2="228.8" y2="270" stroke="#000" stroke-width="0.9"/><text x="230.13" y="281.00" font-size="14.2" font-style="italic">M</text><text x="243.41" y="283.00" font-size="9.5">0</text>
<g transform="translate(25.7,165) rotate(-90)"><text x="0.80" y="0.00" font-size="14" font-style="italic">f</text><text x="8.37" y="0.00" font-size="14">(</text><text x="15.02" y="0.00" font-size="14" font-style="italic">M</text><text x="28.87" y="0.00" font-size="14">)</text><text x="33.58" y="0.00" font-size="14" font-style="italic">a</text><text x="40.51" y="1.40" font-size="9.5">0</text><line x1="46.4" y1="2.6" x2="52.6" y2="-10.4" stroke="#000" stroke-width="0.9"/><text x="54.58" y="0.00" font-size="14" font-style="italic">a</text><text x="61.64" y="2.00" font-size="10" letter-spacing="0.5">ref</text></g>
<rect x="79.5" y="21.75" width="85.5" height="62.25" rx="2.8" ry="2.8" fill="#fff" fill-opacity="0.8" stroke="#cccccc" stroke-width="1.11"/>
<line x1="84.1" y1="32" x2="112.9" y2="32" stroke="#1f77b4" stroke-width="2.083"/>
<line x1="84.1" y1="51.8" x2="112.9" y2="51.8" stroke="#ff7f0e" stroke-width="2.083"/>
<line x1="84.1" y1="71" x2="112.9" y2="71" stroke="#2ca02c" stroke-width="2.083"/>
<text x="123.9" y="37" font-size="13.9">A-W1</text>
<text x="123.9" y="56" font-size="13.9">A-W2</text>
<text x="123.9" y="75" font-size="13.9">A-W3</text>
</svg></body></html>
